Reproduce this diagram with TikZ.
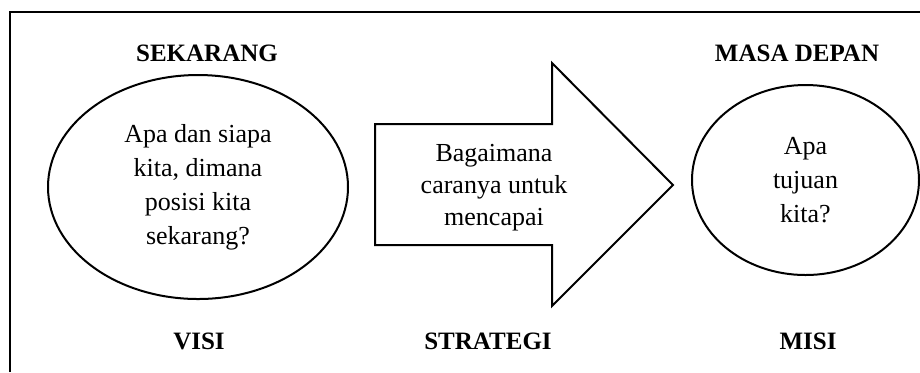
\documentclass[tikz,border=0pt]{standalone}
\usepackage{fontspec}
\setmainfont{Liberation Serif}
\usetikzlibrary{shapes.geometric}
\tikzset{
  lbl/.style={font=\fontsize{12.5}{14}\selectfont\bfseries},
  txt/.style={align=center,font=\fontsize{13}{17}\selectfont},
  oval/.style={draw,ellipse,line width=1pt,inner sep=0pt,txt}
}
\begin{document}
\begin{tikzpicture}[x=0.5pt,y=-0.5pt]
\useasboundingbox (0,0) rectangle (920,372);
\draw[line width=1.2pt] (10,372) -- (10,12) -- (920,12);

\node[lbl] (sekarang) at (207,53) {SEKARANG};
\node[lbl] (masadepan) at (797,53) {MASA DEPAN};

\node[oval,minimum width=150pt,minimum height=112pt] (kini) at (198,187)
  {Apa dan siapa\\kita, dimana\\posisi kita\\sekarang?};
\node[oval,minimum width=113.5pt,minimum height=95pt] (tujuan) at (805.5,180)
  {Apa\\tujuan\\kita?};

\draw[line width=1pt] (375,124) -- (552,124) -- (552,63) -- (673,185)
  -- (552,306) -- (552,245) -- (375,245) -- cycle;
\node[txt,font=\fontsize{13}{16}\selectfont] (cara) at (494,188)
  {Bagaimana\\caranya untuk\\mencapai};

\node[lbl] (visi) at (199,341) {VISI};
\node[lbl] (strategi) at (488,341) {STRATEGI};
\node[lbl] (misi) at (808,341) {MISI};
\end{tikzpicture}
\end{document}
